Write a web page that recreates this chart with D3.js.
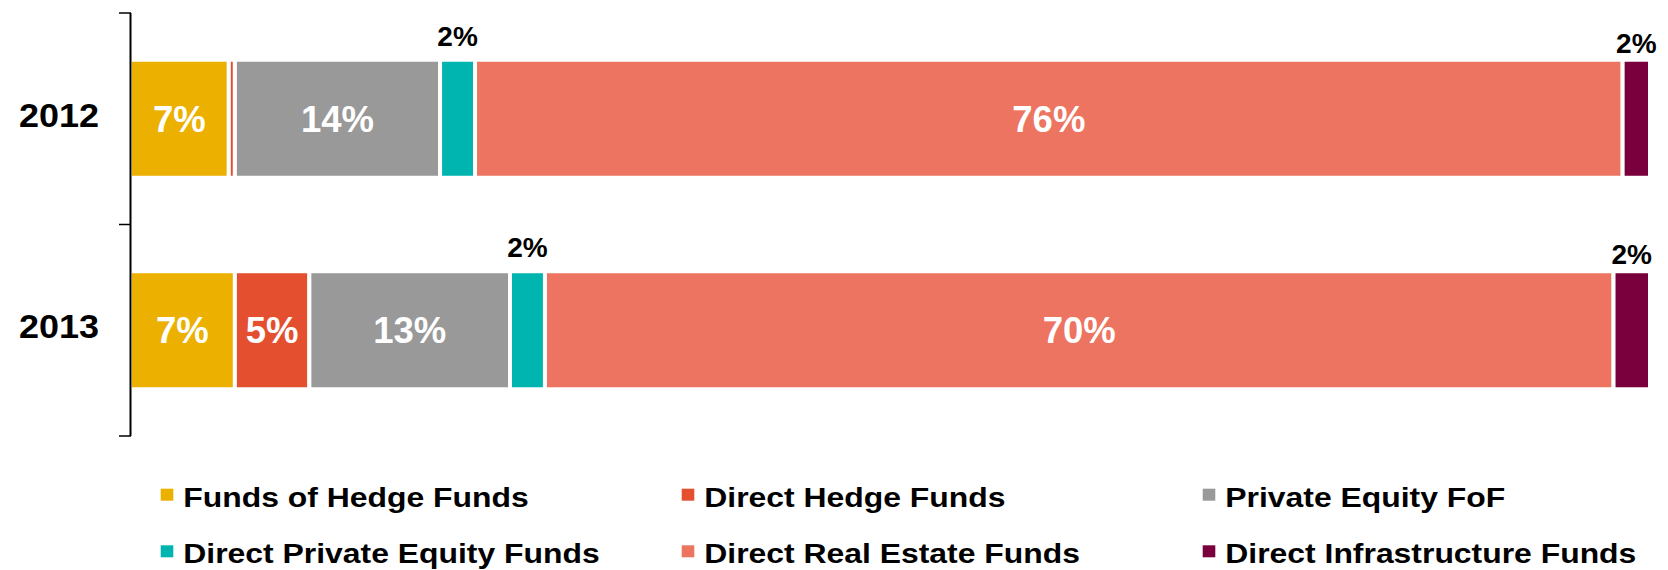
<!DOCTYPE html>
<html>
<head>
<meta charset="utf-8">
<script src="https://cdn.jsdelivr.net/npm/d3@7"></script>
<style>
  html, body { margin: 0; padding: 0; background: #fff; }
  svg { display: block; font-family: "Liberation Sans", Arial, sans-serif; }
</style>
</head>
<body>
<svg id="chart" width="1668" height="570"></svg>
<script>
// ---- data ----
const years = ["2012", "2013"];
const seriesNames = ["Funds of Hedge Funds", "Direct Hedge Funds", "Private Equity FoF",
                     "Direct Private Equity Funds", "Direct Real Estate Funds", "Direct Infrastructure Funds"];
const seriesColors = ["#EBB000", "#E4502F", "#999999", "#00B5AF", "#EC7460", "#79003C"];
const values2012 = [6.5, 0.4, 13.5, 2.3, 75.5, 1.8];
const values2013 = [6.9, 4.9, 13.2, 2.3, 70.3, 2.4];
const valuesByYear = [values2012, values2013];

// ---- layout ----
const svg = d3.select("#chart");
const x = d3.scaleLinear().domain([0, 100]).range([130, 1650]);
const y = d3.scaleBand().domain(years).range([13, 436]).paddingInner(0.442).paddingOuter(0.221);

// build stacked segments
const rows = years.map((yr, yi) => {
  let acc = 0;
  return seriesNames.map((name, si) => {
    const v = valuesByYear[yi][si];
    const seg = { year: yr, si, name, value: v, x0: acc, x1: acc + v };
    acc += v;
    return seg;
  });
});
const segs = rows.flat();

// bars
svg.append("g").selectAll("rect").data(segs).join("rect")
  .attr("x", d => x(d.x0))
  .attr("y", d => y(d.year))
  .attr("width", d => x(d.x1) - x(d.x0))
  .attr("height", y.bandwidth())
  .attr("fill", d => seriesColors[d.si])
  .attr("stroke", "#fff")
  .attr("stroke-width", 4);

// inside labels (>= 4%)
svg.append("g").selectAll("text").data(segs.filter(d => d.value >= 4)).join("text")
  .attr("x", d => x((d.x0 + d.x1) / 2))
  .attr("y", d => y(d.year) + y.bandwidth() / 2 + 12.9)
  .attr("text-anchor", "middle")
  .attr("fill", "#fff")
  .attr("font-size", 36.5)
  .attr("font-weight", "bold")
  .text(d => Math.round(d.value) + "%");

// outside labels (1% - 4%)
const outsideOffset = { 3: 14, 5: 7 };
svg.append("g").selectAll("text").data(segs.filter(d => d.value >= 1 && d.value < 4)).join("text")
  .attr("x", d => x((d.x0 + d.x1) / 2))
  .attr("y", d => y(d.year) - (outsideOffset[d.si] || 12))
  .attr("text-anchor", "middle")
  .attr("fill", "#000")
  .attr("font-size", 28)
  .attr("font-weight", "bold")
  .text(d => Math.round(d.value) + "%");

// axis line with ticks at band boundaries
const ax = svg.append("g");
const [r0, r1] = y.range();
ax.append("line").attr("x1", x(0) + 0.5).attr("x2", x(0) + 0.5).attr("y1", r0).attr("y2", r1)
  .attr("stroke", "#000").attr("stroke-width", 2);
const bounds = d3.range(years.length + 1).map(i => r0 + i * (r1 - r0) / years.length);
ax.selectAll("line.tick").data(bounds).join("line").attr("class", "tick")
  .attr("x1", x(0) - 11).attr("x2", x(0) + 1)
  .attr("y1", d => d).attr("y2", d => d)
  .attr("stroke", "#000").attr("stroke-width", 1.5);

// year labels
ax.selectAll("text.yr").data(years).join("text").attr("class", "yr")
  .attr("transform", d => `translate(99,${y(d) + y.bandwidth() / 2 + 8}) scale(1.075,1)`)
  .attr("text-anchor", "end")
  .attr("font-size", 33.5)
  .attr("font-weight", "bold")
  .attr("fill", "#000")
  .text(d => d);

// legend
const legend = svg.append("g");
const colX = i => 160.7 + (i % 3) * 521;
const rowY = i => 506.7 + Math.floor(i / 3) * 56.6;
const items = legend.selectAll("g").data(seriesNames).join("g")
  .attr("transform", (d, i) => `translate(${colX(i)},${rowY(i)})`);
items.append("rect")
  .attr("x", 0).attr("y", -18).attr("width", 12.6).attr("height", 12)
  .attr("fill", (d, i) => seriesColors[i]);
items.append("text")
  .attr("transform", "translate(22.6,0) scale(1.16,1)")
  .attr("font-size", 27.5)
  .attr("font-weight", "bold")
  .attr("fill", "#000")
  .text(d => d);
</script>
</body>
</html>
